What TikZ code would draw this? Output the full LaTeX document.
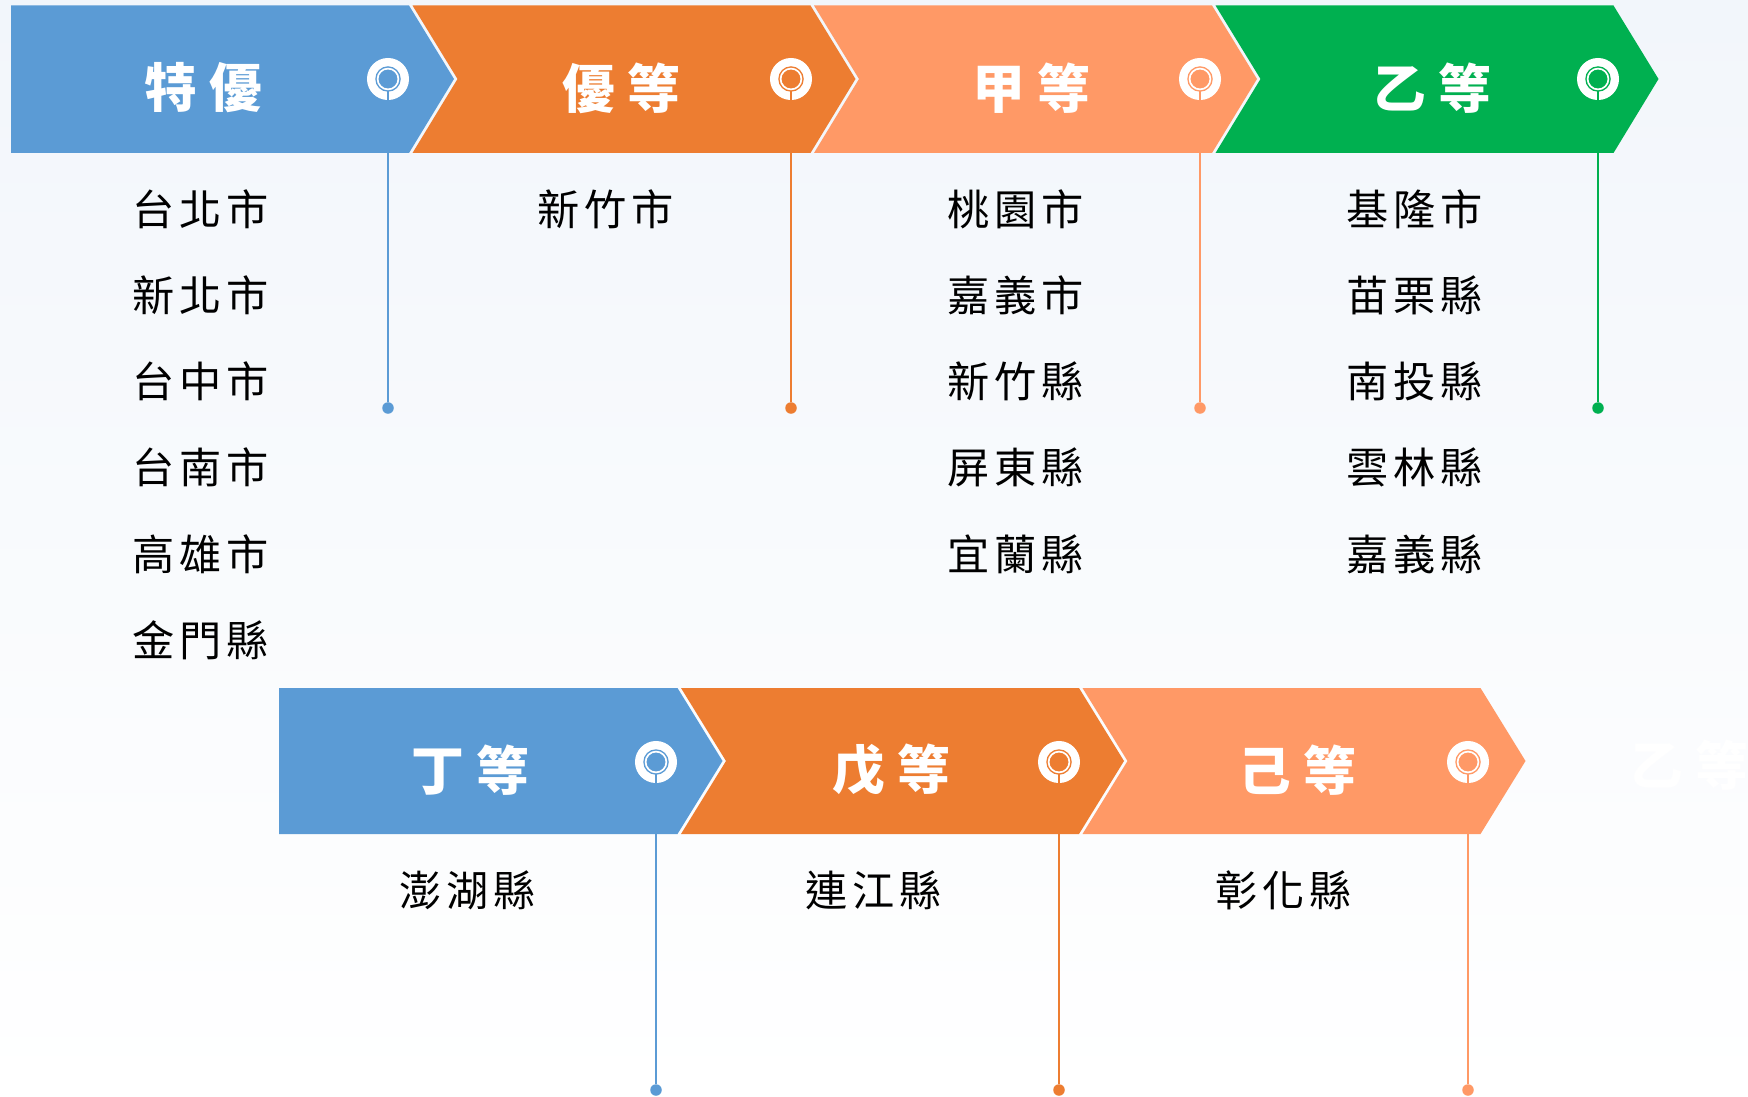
\documentclass[tikz,border=0pt]{standalone}
\usepackage{fontspec}
\usepackage{xcolor}
\usepackage{tikz}
\newfontfamily\cjk[LetterSpace=12]{Noto Sans CJK TC}
\newfontfamily\cjkhead[LetterSpace=22]{Noto Sans CJK TC}
\definecolor{tierblue}{HTML}{5B9BD5}
\definecolor{tierorange}{HTML}{ED7D31}
\definecolor{tierpeach}{HTML}{FF9966}
\definecolor{tiergreen}{HTML}{00B050}
\definecolor{bgtop}{HTML}{F2F6FB}

\begin{document}
\begin{tikzpicture}[x=0.01cm, y=-0.01cm,
  head/.style={text=white, inner sep=0pt, xshift=0.055cm, font=\cjkhead\bfseries\fontsize{15}{18}\selectfont},
  city/.style={text=black, inner sep=0pt, xshift=0.025cm, font=\cjk\fontsize{12}{14}\selectfont},
  ico/.style={circle, fill=white, minimum size=0.42cm, inner sep=0pt},
  ring/.style={circle, inner sep=0pt, minimum size=0.208cm, line width=0.0145cm,
    double=white, double distance=0.017cm, outer sep=0.016cm},
  dot/.style={circle, minimum size=0.115cm, inner sep=0pt},
  stem/.style={line width=0.029cm}]
  \useasboundingbox (0,0) rectangle (1748,1097);
  \shade[top color=bgtop, bottom color=white] (0,0) rectangle (1748,1097);

  % upper row of arrows
  \fill[tierblue] (11,5.5) -- (409,5.5) -- (454,79) -- (409,153) -- (11,153) -- cycle;
  \fill[tierorange] (412.5,5.5) -- (810.5,5.5) -- (855.5,79) -- (810.5,153) -- (412.5,153) -- (457.5,79) -- cycle;
  \fill[tierpeach] (814,5.5) -- (1212,5.5) -- (1257,79) -- (1212,153) -- (814,153) -- (859,79) -- cycle;
  \fill[tiergreen] (1215.5,5.5) -- (1613.5,5.5) -- (1658.5,79) -- (1613.5,153) -- (1215.5,153) -- (1260.5,79) -- cycle;

  % lower row of arrows
  \fill[tierblue] (279,688) -- (677.5,688) -- (722.5,761) -- (677.5,834) -- (279,834) -- cycle;
  \fill[tierorange] (681,688) -- (1079,688) -- (1124,761) -- (1079,834) -- (681,834) -- (726,761) -- cycle;
  \fill[tierpeach] (1082.5,688) -- (1480.5,688) -- (1525.5,761) -- (1480.5,834) -- (1082.5,834) -- (1127.5,761) -- cycle;

  \node[head] (hd1) at (198,88) {特優};
  \node[head] (hd2) at (616,88) {優等};
  \node[head] (hd3) at (1026,88) {甲等};
  \node[head] (hd4) at (1427,88) {乙等};
  \node[head] (hd5) at (465,770) {丁等};
  \node[head] (hd6) at (886,770) {戊等};
  \node[head] (hd7) at (1292,770) {己等};
  \node[head] (hd8) at (1684,765) {乙等};

  \node[ico] (ic1) at (388,79) {};
  \node[ico] (ic2) at (791,79) {};
  \node[ico] (ic3) at (1200,79) {};
  \node[ico] (ic4) at (1598,79) {};
  \node[ico] (ic5) at (656,762) {};
  \node[ico] (ic6) at (1059,762) {};
  \node[ico] (ic7) at (1468,762) {};
  \node[ring, draw=tierblue, fill=tierblue] (rg1) at (ic1) {};
  \node[ring, draw=tierorange, fill=tierorange] (rg2) at (ic2) {};
  \node[ring, draw=tierpeach, fill=tierpeach] (rg3) at (ic3) {};
  \node[ring, draw=tiergreen, fill=tiergreen] (rg4) at (ic4) {};
  \node[ring, draw=tierblue, fill=tierblue] (rg5) at (ic5) {};
  \node[ring, draw=tierorange, fill=tierorange] (rg6) at (ic6) {};
  \node[ring, draw=tierpeach, fill=tierpeach] (rg7) at (ic7) {};

  % pins hanging from the rings
  \node[dot, fill=tierblue] (dt1) at (388,408) {};
  \node[dot, fill=tierorange] (dt2) at (791,408) {};
  \node[dot, fill=tierpeach] (dt3) at (1200,408) {};
  \node[dot, fill=tiergreen] (dt4) at (1598,408) {};
  \node[dot, fill=tierblue] (dt5) at (656,1090) {};
  \node[dot, fill=tierorange] (dt6) at (1059,1090) {};
  \node[dot, fill=tierpeach] (dt7) at (1468,1090) {};
  \draw[stem, tierblue] (rg1.south) -- (dt1);
  \draw[stem, tierorange] (rg2.south) -- (dt2);
  \draw[stem, tierpeach] (rg3.south) -- (dt3);
  \draw[stem, tiergreen] (rg4.south) -- (dt4);
  \draw[stem, tierblue] (rg5.south) -- (dt5);
  \draw[stem, tierorange] (rg6.south) -- (dt6);
  \draw[stem, tierpeach] (rg7.south) -- (dt7);

  \node[city] (a1) at (198,209) {台北市};
  \node[city] (a2) at (198,295) {新北市};
  \node[city] (a3) at (198,381) {台中市};
  \node[city] (a4) at (198,467) {台南市};
  \node[city] (a5) at (198,554) {高雄市};
  \node[city] (a6) at (198,640) {金門縣};
  \node[city] (b1) at (603,209) {新竹市};
  \node[city] (c1) at (1013,209) {桃園市};
  \node[city] (c2) at (1013,295) {嘉義市};
  \node[city] (c3) at (1013,381) {新竹縣};
  \node[city] (c4) at (1013,467) {屏東縣};
  \node[city] (c5) at (1013,554) {宜蘭縣};
  \node[city] (e1) at (1412,209) {基隆市};
  \node[city] (e2) at (1412,295) {苗栗縣};
  \node[city] (e3) at (1412,381) {南投縣};
  \node[city] (e4) at (1412,467) {雲林縣};
  \node[city] (e5) at (1412,554) {嘉義縣};
  \node[city] (f1) at (465,890) {澎湖縣};
  \node[city] (g1) at (871,890) {連江縣};
  \node[city] (h1) at (1281,890) {彰化縣};
\end{tikzpicture}
\end{document}
